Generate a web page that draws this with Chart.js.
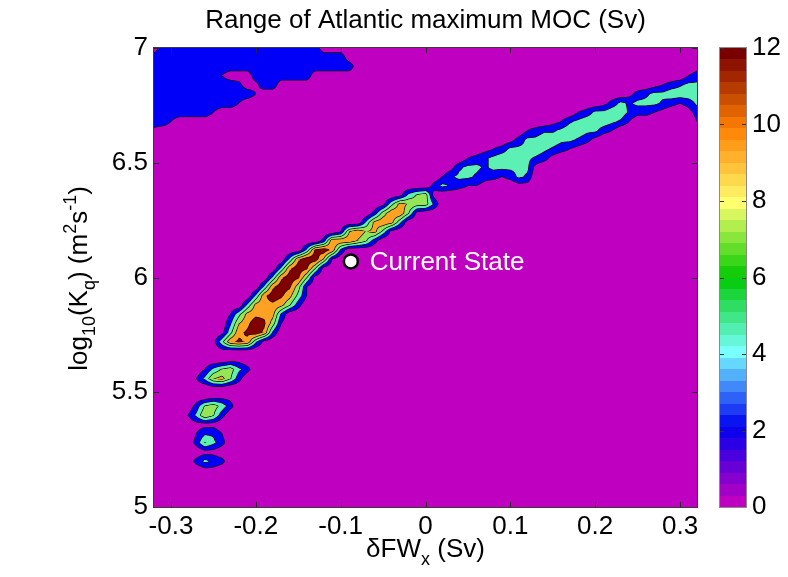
<!DOCTYPE html>
<html>
<head>
<meta charset="utf-8">
<title>Range of Atlantic maximum MOC</title>
<script src="https://cdn.jsdelivr.net/npm/chart.js@4.4.1/dist/chart.umd.min.js"></script>
<style>
	html, body { margin: 0; padding: 0; background: #fff; }
</style>
</head>
<body>
<canvas id="moc" width="788" height="577"></canvas>
<script>
const xTicks = [-0.3, -0.2, -0.1, 0, 0.1, 0.2, 0.3];
const yTicks = [5, 5.5, 6, 6.5, 7];
const colorbarTicks = [0, 2, 4, 6, 8, 10, 12];

// sampling grid: columns are dFW_x (Sv), rows are log10(Kq), top row first
const gridX0 = -0.32, gridDX = 0.01, gridNX = 65;
const gridY0 = 7.0, gridDY = -0.04, gridNY = 51;

// MOC range (Sv) per grid row: [first column, one hex digit per cell], other cells are 0
const mocRangeRows = [
	[[1, '4444444444444444444']],
	[[0, '44444444444444444444444']],
	[[0, '444444444444444444444444'], [64, '1']],
	[[0, '4444444420004444444'], [63, '23']],
	[[0, '444444444430144'], [59, '123455']],
	[[0, '4444444444442'], [56, '134556666']],
	[[0, '44444444442'], [53, '135455543235']],
	[[0, '44444442'], [50, '235566433210013']],
	[[0, '442'], [47, '1245666542'], [64, '2']],
	[[0, '1'], [44, '23445665532']],
	[[42, '13556655431']],
	[[39, '123555654321']],
	[[37, '23456655431']],
	[[35, '14554555551']],
	[[34, '24554332354']],
	[[33, '354322100011']],
	[[29, '15781']],
	[[27, '16a9884']],
	[[26, '38bb71']],
	[[25, '5aba5']],
	[[22, '29b9a61']],
	[[20, '3bbb973']],
	[[18, '5cdb4']],
	[[16, '5bdd92']],
	[[15, '5bdc71']],
	[[14, '5bdc71']],
	[[13, '5bdc82']],
	[[12, '5bdca62']],
	[[11, '5abba73']],
	[[9, '26abba4']],
	[[9, '49bdc82']],
	[[8, '16bcdb4']],
	[[7, '16bcb51']],
	[[8, '1111']],
	[[9, '11']],
	[[6, '257853']],
	[[5, '259a73']],
	[[7, '11']],
	[[7, '111']],
	[[5, '37863']],
	[[4, '25973']],
	[[5, '111']],
	[[5, '2442']],
	[[5, '3753']],
	[[6, '11']],
	[[5, '3543']],
	[[6, '11']],
	[], [], [], []
];

const contourLevels = [2, 4.4, 6.8, 9.2, 11.6];
const contourFills = ['#c000c0', '#0000f8', '#5cf0b4', '#94e656', '#ffa224', '#800000'];

const colormapStops = [
	[0, '#c000c0'], [2, '#0000f0'], [4, '#78ffff'], [6, '#00c800'],
	[8, '#ffff70'], [10, '#ff8000'], [12, '#780000']
];
const colorbarSteps = 40;

const currentState = {x: -0.088, y: 6.07};

const fontFamily = '"Liberation Sans", Arial, Helvetica, sans-serif';
const fontSize = 26;

function hexToRgb(hex) {
	let n = parseInt(hex.slice(1), 16);
	return [(n >> 16) & 255, (n >> 8) & 255, n & 255];
}

function colormap(v) {
	for (let k = 1; k < colormapStops.length; k++) {
		let [v0, c0] = colormapStops[k - 1];
		let [v1, c1] = colormapStops[k];
		if (v <= v1 || k === colormapStops.length - 1) {
			let t = Math.min(Math.max((v - v0) / (v1 - v0), 0), 1);
			let a = hexToRgb(c0), b = hexToRgb(c1);
			let c = a.map((ch, i) => Math.round(ch + (b[i] - ch) * t));
			return `rgb(${c[0]},${c[1]},${c[2]})`;
		}
	}
}

function buildField() {
	let z = [];
	for (let j = 0; j < gridNY; j++) {
		let row = new Array(gridNX).fill(0);
		for (const [i0, digits] of mocRangeRows[j]) {
			for (let k = 0; k < digits.length; k++) {
				row[i0 + k] = parseInt(digits[k], 16);
			}
		}
		z.push(row);
	}
	return z;
}

const mocField = buildField();

function sampleField(x, y) {
	let fi = (x - gridX0) / gridDX;
	let fj = (y - gridY0) / gridDY;
	fi = Math.min(Math.max(fi, 0), gridNX - 1.0001);
	fj = Math.min(Math.max(fj, 0), gridNY - 1.0001);
	let i = Math.floor(fi), j = Math.floor(fj);
	let tx = fi - i, ty = fj - j;
	return mocField[j][i] * (1 - tx) * (1 - ty) + mocField[j][i + 1] * tx * (1 - ty)
		+ mocField[j + 1][i] * (1 - tx) * ty + mocField[j + 1][i + 1] * tx * ty;
}

// filled contours with thin black contour lines, rendered pixel by pixel through the scales
const contourPlugin = {
	id: 'contourField',
	beforeDatasetsDraw(chart) {
		const {ctx, chartArea: area, scales} = chart;
		const w = Math.round(area.right - area.left);
		const h = Math.round(area.bottom - area.top);
		const field = new Float32Array(w * h);
		for (let py = 0; py < h; py++) {
			let yv = scales.y.getValueForPixel(area.top + py + 0.5);
			for (let px = 0; px < w; px++) {
				let xv = scales.x.getValueForPixel(area.left + px + 0.5);
				field[py * w + px] = sampleField(xv, yv);
			}
		}
		const fills = contourFills.map(hexToRgb);
		const off = document.createElement('canvas');
		off.width = w;
		off.height = h;
		const octx = off.getContext('2d');
		const img = octx.createImageData(w, h);
		for (let py = 0; py < h; py++) {
			for (let px = 0; px < w; px++) {
				let k = py * w + px;
				let v = field[k];
				let band = 0;
				while (band < contourLevels.length && v >= contourLevels[band]) band++;
				let c = fills[band];
				let gx = (field[py * w + Math.min(px + 1, w - 1)] - field[py * w + Math.max(px - 1, 0)]) / 2;
				let gy = (field[Math.min(py + 1, h - 1) * w + px] - field[Math.max(py - 1, 0) * w + px]) / 2;
				let g = Math.hypot(gx, gy);
				let line = 0;
				if (g > 1e-6) {
					for (const level of contourLevels) {
						let d = Math.abs(v - level) / g;
						line = Math.max(line, 1 - d / 0.8);
					}
				}
				line = Math.min(Math.max(line, 0), 1) * 0.9;
				img.data[k * 4] = c[0] * (1 - line) + 10 * line;
				img.data[k * 4 + 1] = c[1] * (1 - line) + 10 * line;
				img.data[k * 4 + 2] = c[2] * (1 - line) + 10 * line;
				img.data[k * 4 + 3] = 255;
			}
		}
		octx.putImageData(img, 0, 0);
		ctx.drawImage(off, area.left, area.top);
	}
};

function drawRichText(ctx, parts, x, y, size) {
	const small = Math.round(size * 0.7);
	let widths = parts.map(([text, kind]) => {
		ctx.font = `${kind ? small : size}px ${fontFamily}`;
		return ctx.measureText(text).width;
	});
	let cx = x - widths.reduce((a, b) => a + b, 0) / 2;
	ctx.textAlign = 'left';
	ctx.textBaseline = 'alphabetic';
	parts.forEach(([text, kind], k) => {
		ctx.font = `${kind ? small : size}px ${fontFamily}`;
		let dy = kind === 'sub' ? size * 0.3 : kind === 'sup' ? -size * 0.42 : 0;
		ctx.fillText(text, cx, y + dy);
		cx += widths[k];
	});
}

const decorationsPlugin = {
	id: 'decorations',
	afterDraw(chart) {
		const {ctx, chartArea: area, scales} = chart;
		ctx.save();

		// inner tick marks on all four sides and the frame
		ctx.strokeStyle = '#262626';
		ctx.lineWidth = 1;
		ctx.beginPath();
		xTicks.forEach(v => {
			let px = Math.round(scales.x.getPixelForValue(v)) + 0.5;
			ctx.moveTo(px, area.bottom); ctx.lineTo(px, area.bottom - 5);
			ctx.moveTo(px, area.top); ctx.lineTo(px, area.top + 5);
		});
		yTicks.forEach(v => {
			let py = Math.round(scales.y.getPixelForValue(v)) + 0.5;
			ctx.moveTo(area.left, py); ctx.lineTo(area.left + 5, py);
			ctx.moveTo(area.right, py); ctx.lineTo(area.right - 5, py);
		});
		ctx.stroke();
		ctx.strokeStyle = '#3a3a3a';
		ctx.strokeRect(area.left - 0.5, area.top - 0.5, area.right - area.left + 1, area.bottom - area.top + 1);

		// colour bar
		const cb = scales.cbar;
		const cbLeft = area.right + 23, cbWidth = 26;
		const step = 12 / colorbarSteps;
		for (let k = 0; k < colorbarSteps; k++) {
			let y0 = Math.round(cb.getPixelForValue((k + 1) * step));
			let y1 = Math.round(cb.getPixelForValue(k * step));
			ctx.fillStyle = colormap(k * 12 / (colorbarSteps - 1));
			ctx.fillRect(cbLeft, y0, cbWidth, y1 - y0);
		}
		ctx.strokeStyle = '#333';
		ctx.beginPath();
		colorbarTicks.forEach(v => {
			let py = Math.round(cb.getPixelForValue(v)) + 0.5;
			ctx.moveTo(cbLeft, py); ctx.lineTo(cbLeft + 4, py);
			ctx.moveTo(cbLeft + cbWidth, py); ctx.lineTo(cbLeft + cbWidth - 4, py);
		});
		ctx.stroke();
		ctx.strokeStyle = '#8a8a8a';
		ctx.strokeRect(cbLeft - 0.5, cb.top - 0.5, cbWidth + 1, cb.bottom - cb.top + 1);

		// titles
		ctx.fillStyle = '#000';
		ctx.font = `${fontSize}px ${fontFamily}`;
		ctx.textAlign = 'center';
		ctx.textBaseline = 'alphabetic';
		ctx.fillText('Range of Atlantic maximum MOC (Sv)', (area.left + area.right) / 2, 28);

		drawRichText(ctx, [['\u03b4FW', null], ['x', 'sub'], [' (Sv)', null]],
			(area.left + area.right) / 2, 557, fontSize);

		ctx.save();
		ctx.translate(87, (area.top + area.bottom) / 2 + 1);
		ctx.rotate(-Math.PI / 2);
		drawRichText(ctx, [['log', null], ['10', 'sub'], ['(K', null], ['q', 'sub'],
			[') (m', null], ['2', 'sup'], ['s', null], ['-1', 'sup'], [')', null]], 0, 0, fontSize);
		ctx.restore();

		// marker label
		ctx.fillStyle = '#fff';
		ctx.font = `${fontSize}px ${fontFamily}`;
		ctx.textAlign = 'left';
		ctx.textBaseline = 'middle';
		ctx.fillText('Current State', scales.x.getPixelForValue(currentState.x) + 19,
			scales.y.getPixelForValue(currentState.y) + 1);

		ctx.restore();
	}
};

function tickFont() {
	return {family: fontFamily, size: fontSize};
}

// vertical axes should not push the plot down to make room for their end labels
function fitVertical(width) {
	return (scale) => {
		scale.width = width;
		scale.paddingTop = 0;
		scale.paddingBottom = 0;
	};
}

document.addEventListener('DOMContentLoaded', () => {
	let context = document.getElementById('moc').getContext('2d');

	let xScaleConfig = {
		type: 'linear',
		position: 'bottom',
		min: -0.32,
		max: 0.32,
		afterBuildTicks: (scale) => { scale.ticks = xTicks.map(v => ({value: v})); },
		afterFit: (scale) => {
			scale.height = 70;
			scale.paddingLeft = 0;
			scale.paddingRight = 0;
		},
		grid: {display: false, drawTicks: false},
		border: {display: false},
		ticks: {
			font: tickFont(),
			color: '#000',
			padding: 4,
			autoSkip: false,
			maxRotation: 0,
			callback: (v) => String(v)
		}
	};

	let yScaleConfig = {
		type: 'linear',
		position: 'left',
		min: 5,
		max: 7,
		afterBuildTicks: (scale) => { scale.ticks = yTicks.map(v => ({value: v})); },
		afterFit: fitVertical(154),
		grid: {display: false, drawTicks: false},
		border: {display: false},
		ticks: {
			font: tickFont(),
			color: '#000',
			padding: 6,
			callback: (v) => String(v)
		}
	};

	let colorbarScaleConfig = {
		type: 'linear',
		position: 'right',
		min: 0,
		max: 12,
		afterBuildTicks: (scale) => { scale.ticks = colorbarTicks.map(v => ({value: v})); },
		afterFit: fitVertical(91),
		grid: {display: false, drawTicks: false},
		border: {display: false},
		ticks: {
			font: tickFont(),
			color: '#000',
			padding: 55,
			callback: (v) => String(v)
		}
	};

	let config = {
		type: 'scatter',
		data: {
			datasets: [{
				label: 'Current State',
				data: [currentState],
				pointRadius: 7,
				pointBorderWidth: 2.5,
				pointBackgroundColor: '#fff',
				pointBorderColor: '#000',
				clip: false
			}]
		},
		options: {
			responsive: false,
			animation: false,
			events: [],
			layout: {padding: {top: 48, left: 0, right: 0, bottom: 0}},
			plugins: {
				legend: {display: false},
				title: {display: false},
				tooltip: {enabled: false}
			},
			scales: {
				x: xScaleConfig,
				y: yScaleConfig,
				cbar: colorbarScaleConfig
			}
		},
		plugins: [contourPlugin, decorationsPlugin]
	};

	new Chart(context, config);
});
</script>
</body>
</html>
